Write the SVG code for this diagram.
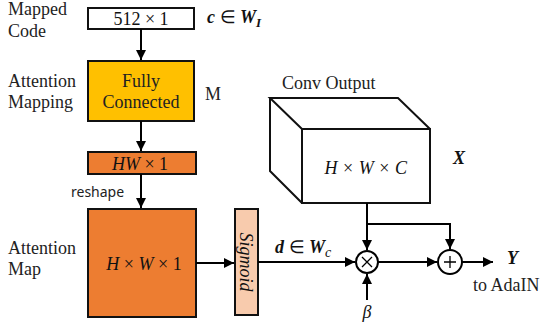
<svg xmlns="http://www.w3.org/2000/svg" width="550" height="331" viewBox="0 0 550 331">
<defs>
<marker id="arr" viewBox="0 0 10 10" refX="10" refY="5" markerWidth="5" markerHeight="5" orient="auto" markerUnits="strokeWidth">
<path d="M0,0 L10,5 L0,10 z" fill="#000"/>
</marker>
<style>
.box{stroke:#111;stroke-width:2}
.lbl{font-family:"Liberation Serif",serif;font-size:18px;fill:#222}
.math{font-family:"Liberation Serif",serif;font-size:18px;fill:#111}
.it{font-style:italic}
.bi{font-style:italic;font-weight:bold}
.ln{fill:none;stroke:#000;stroke-width:2}
</style>
</defs>
<rect width="550" height="331" fill="#fff"/>

<g id="labels">
<text class="lbl" x="8" y="15">Mapped</text>
<text class="lbl" x="8" y="37">Code</text>
<text class="lbl" x="8" y="87">Attention</text>
<text class="lbl" x="8" y="108">Mapping</text>
<text class="lbl" x="8" y="254">Attention</text>
<text class="lbl" x="8" y="275">Map</text>
<text class="lbl" x="205" y="100" font-size="19">M</text>
<text class="math" x="207" y="23" font-size="20"><tspan class="bi">c</tspan> ∈ <tspan class="bi">W</tspan><tspan class="bi" font-size="13" dy="4">I</tspan></text>
<text x="71" y="197" font-family="'Noto Sans','DejaVu Sans',sans-serif" font-size="14" fill="#222">reshape</text>
<text class="lbl" x="282" y="89" font-size="20">Conv Output</text>
<text class="math bi" x="453" y="164" font-size="20">X</text>
<text class="math" x="275" y="253" font-size="21"><tspan class="bi">d</tspan> ∈ <tspan class="bi">W</tspan><tspan class="it" font-size="14" dy="4">c</tspan></text>
<text class="math bi" x="507" y="264" font-size="20">Y</text>
<text class="lbl" x="473" y="291" font-size="20">to AdaIN</text>
<text class="math it" x="367" y="318" text-anchor="middle" font-size="19">β</text>
</g>

<g id="node-code">
<rect class="box" x="88" y="8" width="106" height="21" fill="#fff"/>
<text class="math" x="141" y="25" text-anchor="middle" font-size="19">512 × 1</text>
</g>

<g id="node-fc">
<rect class="box" x="88" y="61" width="106" height="60" fill="#FFC000"/>
<text class="lbl" x="141" y="87" text-anchor="middle">Fully</text>
<text class="lbl" x="141" y="108" text-anchor="middle">Connected</text>
</g>

<g id="node-hw">
<rect class="box" x="88" y="152" width="108" height="22" fill="#ED7D31"/>
<text class="math" x="140" y="170" text-anchor="middle"><tspan class="it">HW</tspan> × 1</text>
</g>

<g id="node-map">
<rect class="box" x="88" y="209" width="108" height="108" fill="#ED7D31"/>
<text class="math" x="144" y="270" text-anchor="middle"><tspan class="it">H</tspan> × <tspan class="it">W</tspan> × 1</text>
</g>

<g id="node-sigmoid">
<rect class="box" x="235" y="209" width="23" height="106" fill="#F8CBAD"/>
<text class="math it" transform="translate(240,262) rotate(90)" text-anchor="middle" font-size="18">Sigmoid</text>
</g>

<g id="node-conv">
<path class="box" d="M302,129 L270,98 L398,98 L430,129 M270,98 L270,171 L302,203" fill="#fff"/>
<rect class="box" x="302" y="129" width="128" height="74" fill="#fff"/>
<text class="math" x="366" y="174" text-anchor="middle" font-size="21" letter-spacing="0.5"><tspan class="it">H</tspan> × <tspan class="it">W</tspan> × <tspan class="it">C</tspan></text>
</g>

<g id="node-mul">
<circle cx="367" cy="262" r="11" fill="#fff" stroke="#000" stroke-width="2"/>
<path d="M362,257 L372,267 M372,257 L362,267" stroke="#000" stroke-width="1.3"/>
</g>

<g id="node-add">
<circle cx="450" cy="262" r="12" fill="#fff" stroke="#000" stroke-width="2"/>
<path d="M450,256 L450,268 M444,262 L456,262" stroke="#000" stroke-width="1.3"/>
</g>

<g id="connectors">
<line class="ln" x1="141" y1="29" x2="141" y2="60" marker-end="url(#arr)"/>
<line class="ln" x1="141" y1="121" x2="141" y2="151" marker-end="url(#arr)"/>
<line class="ln" x1="141" y1="174" x2="141" y2="208" marker-end="url(#arr)"/>
<line class="ln" x1="196" y1="263" x2="234" y2="263" marker-end="url(#arr)"/>
<line class="ln" x1="258" y1="262" x2="355" y2="262" marker-end="url(#arr)"/>
<line class="ln" x1="367" y1="203" x2="367" y2="250" marker-end="url(#arr)"/>
<polyline class="ln" points="367,224 450,224 450,249" marker-end="url(#arr)"/>
<line class="ln" x1="378" y1="262" x2="437" y2="262" marker-end="url(#arr)"/>
<line class="ln" x1="462" y1="262" x2="493" y2="262" marker-end="url(#arr)"/>
<line class="ln" x1="367" y1="300" x2="367" y2="274" marker-end="url(#arr)"/>
</g>
</svg>
